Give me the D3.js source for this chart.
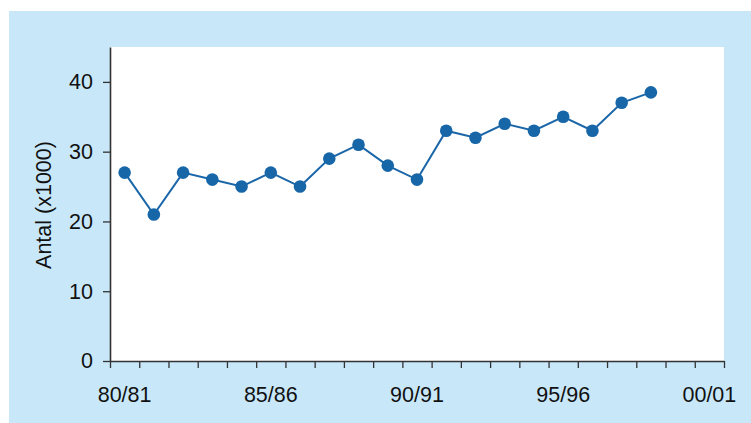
<!DOCTYPE html>
<html>
<head>
<meta charset="utf-8">
<script src="https://cdn.jsdelivr.net/npm/d3@7"></script>
<style>
  html, body { margin: 0; padding: 0; background: #ffffff; }
  svg { display: block; }
  text { font-family: "Liberation Sans", Arial, Helvetica, sans-serif; }
</style>
</head>
<body>
<svg id="chart" width="751" height="423"></svg>
<script>
// Seasons (x categories) and values (in thousands)
const seasons = ["80/81","81/82","82/83","83/84","84/85","85/86","86/87","87/88","88/89","89/90",
                 "90/91","91/92","92/93","93/94","94/95","95/96","96/97","97/98","98/99","99/00","00/01"];
const values = [27, 21, 27, 26, 25, 27, 25, 29, 31, 28, 26, 33, 32, 34, 33, 35, 33, 37, 38.5];
const xTickLabels = ["80/81","85/86","90/91","95/96","00/01"];
const yTicks = [0, 10, 20, 30, 40];
const yLabel = "Antal (x1000)";

const W = 751, H = 423;
const margin = { left: 110, right: 27, top: 47, bottom: 62 };
const FS = 21.5;
const svg = d3.select("#chart");

// light blue panel
svg.append("rect").attr("x", 9).attr("y", 11).attr("width", W - 9).attr("height", H - 11)
  .attr("fill", "#c8e8fa");

const x = d3.scaleBand().domain(seasons).range([margin.left, W - margin.right]).padding(0);
const y = d3.scaleLinear().domain([0, 45]).range([H - margin.bottom, margin.top]);

// white plot area
svg.append("rect").attr("x", margin.left).attr("y", margin.top)
  .attr("width", W - margin.right - margin.left).attr("height", H - margin.bottom - margin.top)
  .attr("fill", "#ffffff");

// Y axis
const yAxis = svg.append("g").attr("transform", `translate(${margin.left},0)`)
  .call(d3.axisLeft(y).tickValues(yTicks).tickSize(7).tickPadding(10).tickSizeOuter(0));
yAxis.selectAll("text").attr("font-size", FS).attr("fill", "#111");

// X axis: boundary ticks between bands
const bounds = d3.range(seasons.length + 1);
const xLin = d3.scaleLinear().domain([0, seasons.length]).range([margin.left, W - margin.right]);
const xAxis = svg.append("g").attr("transform", `translate(0,${H - margin.bottom})`)
  .call(d3.axisBottom(xLin).tickValues(bounds).tickSize(7).tickFormat("").tickSizeOuter(0));

svg.append("g").selectAll("text").data(xTickLabels).join("text")
  .attr("x", d => x(d) + x.bandwidth() / 2)
  .attr("y", 402)
  .attr("text-anchor", "middle")
  .attr("font-size", FS).attr("fill", "#111")
  .text(d => d);

[yAxis, xAxis].forEach(g => {
  g.select(".domain").attr("stroke", "#333").attr("stroke-width", 1.6);
  g.selectAll(".tick line").attr("stroke", "#333").attr("stroke-width", 1.3);
});

// Y label
svg.append("text")
  .attr("transform", `translate(51,205) rotate(-90)`)
  .attr("text-anchor", "middle")
  .attr("font-size", FS).attr("fill", "#111")
  .text(yLabel);

// Line + points
const pts = values.map((v, i) => [x(seasons[i]) + x.bandwidth() / 2, y(v)]);
svg.append("path").attr("d", d3.line()(pts))
  .attr("fill", "none").attr("stroke", "#1a66a8").attr("stroke-width", 2);
svg.append("g").selectAll("circle").data(pts).join("circle")
  .attr("cx", d => d[0]).attr("cy", d => d[1]).attr("r", 6.3)
  .attr("fill", "#1766a8");
</script>
</body>
</html>
